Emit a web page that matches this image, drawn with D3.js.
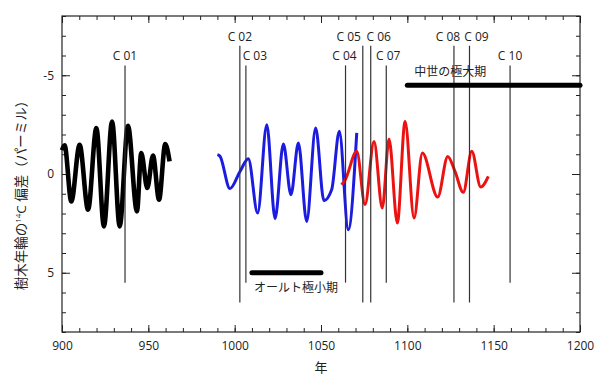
<!DOCTYPE html>
<html>
<head>
<meta charset="utf-8">
<script src="https://cdn.jsdelivr.net/npm/d3@7"></script>
<style>
  body { margin: 0; background: #fff; }
  text { font-family: "Open Sans", "Noto Sans CJK JP", sans-serif; fill: #222; }
</style>
</head>
<body>
<svg id="chart" width="600" height="384"></svg>
<script>
// 樹木年輪の14C偏差 (‰) — 年ごとの山と谷を読み取った値
const blackYears = [900, 901.5, 905.4, 910.2, 915.1, 919.9, 924.3, 929.0, 933.4, 938.2, 943.4, 945.9, 949.4, 952.7, 956.2, 959.8, 962.3];
const blackVals  = [-1.2, -1.45, 1.39, -1.48, 1.81, -2.33, 2.65, -2.66, 2.65, -2.44, 1.89, -1.06, 0.71, -0.93, 1.30, -1.52, -0.64];

const blueYears = [990.0, 991.5, 997.3, 1003.1, 1007.9, 1013.3, 1018.6, 1023.4, 1028.2, 1032.6, 1036.9, 1041.7, 1046.9, 1051.7, 1056.2, 1060.6, 1065.8, 1070.7];
const blueVals  = [-0.98, -0.9, 0.74, -0.13, -0.77, 1.98, -2.50, 2.26, -1.52, 1.05, -1.57, 2.40, -2.33, 1.35, 0.79, -2.16, 2.82, -2.08];

const redYears = [1061.9, 1064, 1070.7, 1075.5, 1080.7, 1085.5, 1089.4, 1094.2, 1098.7, 1103.9, 1108.7, 1117.6, 1123.4, 1127.6, 1132.4, 1137.3, 1142.5, 1146.9];
const redVals  = [0.54, 0.3, -1.15, 1.55, -1.65, 1.72, -1.77, 2.48, -2.66, 2.23, -1.06, 1.17, -0.89, -0.13, 0.93, -1.15, 0.66, 0.12];

// 年代を示す試料 C 01〜C 10
const markerNames = ["C 01", "C 02", "C 03", "C 04", "C 05", "C 06", "C 07", "C 08", "C 09", "C 10"];
const markerYears = [936.5, 1003, 1006.5, 1064.2, 1074.2, 1078.8, 1087.8, 1127, 1136, 1159.5];
const markerTall  = [false, true, false, false, true, true, false, true, true, false];

// 太陽活動の期間
const periodNames = ["オールト極小期", "中世の極大期"];
const periodStart = [1010, 1100];
const periodEnd   = [1050, 1200];
const periodLevel = [5, -4.5];

const xTicks = [900, 950, 1000, 1050, 1100, 1150, 1200];
const yTicks = [-5, 0, 5];

// ラベル位置の微調整 (px)
const markerDx = [0, 0, 9, -1, -14, 8, 2, -6, 7, 0];

const svg = d3.select("#chart");
const margin = { top: 16, right: 20, bottom: 52, left: 62 };
const width = 600 - margin.left - margin.right;
const height = 384 - margin.top - margin.bottom;
const g = svg.append("g").attr("transform", `translate(${margin.left},${margin.top})`);

const x = d3.scaleLinear().domain([900, 1200]).range([0, width]);
const y = d3.scaleLinear().domain([-8, 8]).range([0, height]);

// 軸 (内向き目盛り)
function styleAxis(sel) {
  sel.select(".domain").remove();
  sel.selectAll("line").attr("stroke", "#222");
  sel.selectAll("text").style("font-size", "12px").attr("fill", "#222");
}
const minorX = d3.range(900, 1201, 10);
const minorY = d3.range(-8, 9, 1);

g.append("g").attr("transform", `translate(0,${height})`)
  .call(d3.axisBottom(x).tickValues(minorX).tickSize(-4).tickFormat("")).call(styleAxis);
g.append("g").attr("transform", `translate(0,${height})`)
  .call(d3.axisBottom(x).tickValues(xTicks).tickSize(-7).tickPadding(9).tickFormat(d3.format("d"))).call(styleAxis);
g.append("g")
  .call(d3.axisTop(x).tickValues(minorX).tickSize(-4).tickFormat("")).call(styleAxis);
g.append("g")
  .call(d3.axisTop(x).tickValues(xTicks).tickSize(-7).tickFormat("")).call(styleAxis);

g.append("g")
  .call(d3.axisLeft(y).tickValues(minorY).tickSize(-4).tickFormat("")).call(styleAxis);
g.append("g")
  .call(d3.axisLeft(y).tickValues(yTicks).tickSize(-8).tickPadding(8).tickFormat(d => d)).call(styleAxis);
g.append("g").attr("transform", `translate(${width},0)`)
  .call(d3.axisRight(y).tickValues(minorY).tickSize(-4).tickFormat("")).call(styleAxis);
g.append("g").attr("transform", `translate(${width},0)`)
  .call(d3.axisRight(y).tickValues(yTicks).tickSize(-8).tickFormat("")).call(styleAxis);

g.append("rect")
  .attr("width", width).attr("height", height)
  .attr("fill", "none").attr("stroke", "#222").attr("stroke-width", 1.2);

// 曲線
const line = d3.line()
  .x(d => x(d[0]))
  .y(d => y(d[1]))
  .curve(d3.curveMonotoneX);

const series = [
  { years: blackYears, vals: blackVals, color: "#000", w: 4.6 },
  { years: blueYears, vals: blueVals, color: "#1c1ce0", w: 3 },
  { years: redYears, vals: redVals, color: "#ec1212", w: 3 }
];
series.forEach(s => {
  g.append("path")
    .datum(s.years.map((yr, i) => [yr, s.vals[i]]))
    .attr("fill", "none")
    .attr("stroke", s.color)
    .attr("stroke-width", s.w)
    .attr("stroke-linejoin", "round")
    .attr("d", line);
});

// 試料の縦線とラベル
markerNames.forEach((name, i) => {
  const top = markerTall[i] ? -6.5 : -5.5;
  const bottom = markerTall[i] ? 6.5 : 5.5;
  const mx = x(markerYears[i]);
  g.append("line")
    .attr("x1", mx).attr("x2", mx)
    .attr("y1", y(top)).attr("y2", y(bottom))
    .attr("stroke", "#333").attr("stroke-width", 1.2);
  g.append("text")
    .attr("x", mx + markerDx[i])
    .attr("y", y(top) - 5)
    .attr("text-anchor", "middle")
    .style("font-size", "12px")
    .text(name);
});

// 期間の太線
periodNames.forEach((name, i) => {
  g.append("line")
    .attr("x1", x(periodStart[i])).attr("x2", x(periodEnd[i]))
    .attr("y1", y(periodLevel[i])).attr("y2", y(periodLevel[i]))
    .attr("stroke", "#000").attr("stroke-width", 5).attr("stroke-linecap", "round");
});
g.append("text")
  .attr("x", x(periodStart[0]) + 2).attr("y", y(periodLevel[0]) + 19)
  .style("font-size", "12px")
  .text(periodNames[0]);
g.append("text")
  .attr("x", x(periodStart[1]) + 7).attr("y", y(periodLevel[1]) - 9)
  .style("font-size", "12px")
  .text(periodNames[1]);

// 軸ラベル
g.append("text")
  .attr("x", width / 2).attr("y", height + 40)
  .attr("text-anchor", "middle")
  .style("font-size", "13px")
  .text("年");

const yLabel = svg.append("text")
  .attr("transform", `translate(26,${margin.top + height / 2 + 18}) rotate(-90)`)
  .attr("text-anchor", "middle")
  .style("font-size", "13.5px");
yLabel.append("tspan").text("樹木年輪の");
yLabel.append("tspan").attr("dy", -5).style("font-size", "8px").text("14");
yLabel.append("tspan").attr("dy", 5).text("C 偏差（パーミル）");
</script>
</body>
</html>
